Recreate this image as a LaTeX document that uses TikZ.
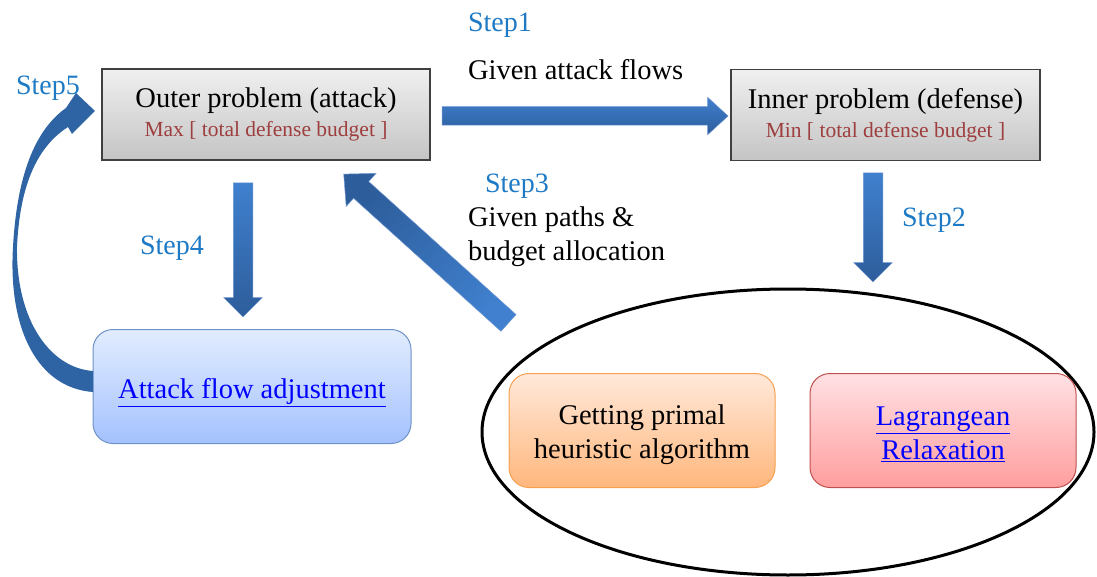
\documentclass[tikz,border=0pt]{standalone}
\usepackage{fontspec}
\setmainfont{Liberation Serif}
\usetikzlibrary{shapes.arrows,shapes.geometric}

\definecolor{stepblue}{RGB}{30,122,196}
\definecolor{subred}{RGB}{158,62,62}
\definecolor{linkblue}{RGB}{0,0,255}
\definecolor{boxline}{RGB}{64,64,64}
\definecolor{arrowlight}{RGB}{64,128,206}
\definecolor{arrowdark}{RGB}{45,93,155}
\definecolor{arrowedge}{RGB}{110,150,210}
\definecolor{curveblue}{RGB}{47,100,164}

\newcommand\subline[1]{{\fontsize{21.5}{24}\selectfont\color{subred}#1}}
% invisible strut that pushes a text block down inside its box
\newcommand\topgap[1]{\rule{0pt}{#1}}

\begin{document}
\begin{tikzpicture}[x=1pt,y=-1pt,
  every node/.style={inner sep=0pt, outer sep=0pt},
  graybox/.style={rectangle, draw=boxline, line width=1.2pt,
    top color=white!94!black, bottom color=white!77!black,
    minimum width=#1, minimum height=91, align=center,
    font=\fontsize{28.5}{29}\selectfont},
  roundbox/.style={rectangle, rounded corners=20pt, line width=1pt,
    minimum width=#1, minimum height=114, align=center,
    font=\fontsize{28.5}{34}\selectfont},
  bluebox/.style={roundbox=318, draw={rgb,255:red,110;green,145;blue,200},
    top color={rgb,255:red,226;green,236;blue,254},
    bottom color={rgb,255:red,164;green,194;blue,254}},
  orangebox/.style={roundbox=266, draw={rgb,255:red,247;green,160;blue,80},
    top color={rgb,255:red,255;green,233;blue,218},
    bottom color={rgb,255:red,255;green,183;blue,125}},
  redbox/.style={roundbox=266, draw={rgb,255:red,192;green,80;blue,77},
    top color={rgb,255:red,255;green,225;blue,228},
    bottom color={rgb,255:red,255;green,158;blue,158}},
  steplabel/.style={text=stepblue, font=\fontsize{28}{30}\selectfont},
  plaintext/.style={font=\fontsize{28.5}{34}\selectfont, align=left},
  blockarrow/.style={single arrow, draw=arrowedge, line width=0.5pt,
    inner xsep=0pt, inner ysep=#1, minimum width=0pt, midway, sloped,
    allow upside down},
  vshade/.style={top color=arrowlight, bottom color=arrowdark},
  dshade/.style={top color=arrowdark, bottom color=arrowlight, shading angle=45}
]
\useasboundingbox (0,0) rectangle (1097,577);

% problem boxes
\node[graybox=328] (outer) at (266,114.5)
  {Outer problem (attack)\\ \subline{Max [ total defense budget ]}};
\node[graybox=309] (inner) at (885.5,115)
  {Inner problem (defense)\\ \subline{Min [ total defense budget ]}};

% solution method group
\node[ellipse, draw=black, line width=3pt, minimum width=612, minimum height=286]
  (group) at (788,432) {};
\node[orangebox] (primal) at (642,430.5)
  {\topgap{28pt}Getting primal\\ heuristic algorithm};
\node[redbox, text=linkblue] (lagr) at (943,430.5)
  {\topgap{26pt}\underline{Lagrangean}\\ \underline{Relaxation}};

% adjustment box
\node[bluebox, text=linkblue] (adjust) at (252,386.5)
  {\topgap{32pt}\underline{Attack flow adjustment}};

% labels
\node[steplabel] (s1) at (500,25) {Step1};
\node[steplabel] (s2) at (934,220) {Step2};
\node[steplabel] (s3) at (517,186) {Step3};
\node[steplabel] (s4) at (172,248) {Step4};
\node[steplabel] (s5) at (48,88) {Step5};
\node[plaintext, anchor=west] (g1) at (468,70) {Given attack flows};
\node[plaintext, anchor=west] (g3) at (468,237) {Given paths \&\\budget allocation};

% arrow end points
\coordinate (a1s) at (437,116);  \coordinate (a1e) at (723,116);
\coordinate (a2s) at (873,168);  \coordinate (a2e) at (873,277);
\coordinate (a3s) at (513,327);  \coordinate (a3e) at (348,178);
\coordinate (a4s) at (243,178);  \coordinate (a4e) at (243,312);

% block arrows
\path (a1s) -- (a1e) node[blockarrow=9pt, vshade, minimum height=286,
  single arrow head extend=9.5pt, single arrow tip angle=85] {};
\path (a2s) -- (a2e) node[blockarrow=9.5pt, vshade, minimum height=109,
  single arrow head extend=9.5pt, single arrow tip angle=90] {};
\path (a4s) -- (a4e) node[blockarrow=9.5pt, vshade, minimum height=134,
  single arrow head extend=9.5pt, single arrow tip angle=90] {};
\path (a3s) -- (a3e) node[blockarrow=11pt, dshade, minimum height=222,
  single arrow head extend=11pt, single arrow tip angle=87] {};

% curved return arrow
\fill[curveblue]
  (93,392) .. controls (38,388) and (8,330) .. (13,247)
  .. controls (17,175) and (35,130) .. (66,108)
  -- (76,93) -- (95,111) -- (72,134) -- (68,127)
  .. controls (40,145) and (20,180) .. (17,247)
  .. controls (16,320) and (50,368) .. (93,371) -- cycle;
\end{tikzpicture}
\end{document}
